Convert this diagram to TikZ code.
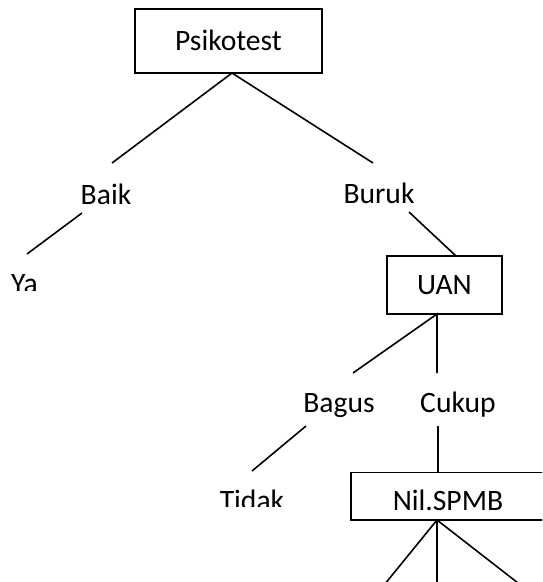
\documentclass[tikz,border=0pt]{standalone}
\usepackage{fontspec}
\setmainfont{Carlito}
\begin{document}
\begin{tikzpicture}[x=1pt,y=-1pt,
  every node/.style={font=\fontsize{29.6}{34}\selectfont},
  box/.style={draw, line width=1.6pt, inner sep=0pt, text height=19pt, text depth=0pt},
  lbl/.style={anchor=base, inner sep=0pt},
  edge/.style={line width=1.6pt}]
\useasboundingbox (0,0) rectangle (542,582);
\clip (0,0) rectangle (542,582);

% decision boxes
\node[box, minimum width=187, minimum height=64] (psiko) at (228.5,41) {Psikotest};
\node[box, minimum width=115, minimum height=58] (uan) at (444.5,285) {UAN};
% the last box runs past the right edge of the page
\node[box, anchor=west, minimum width=240, minimum height=47.5] (nil) at (350,496.3) {};
\node[lbl] (nil-txt) at (448,510) {Nil.SPMB};

% branch labels
\node[lbl] (baik)  at (106,204) {Baik};
\node[lbl] (buruk) at (379,203) {Buruk};
\node[lbl] (bagus) at (339,412) {Bagus};
\node[lbl] (cukup) at (458,412) {Cukup};

% leaf labels, cut off by their text frames
\begin{scope}
  \clip (0,260) rectangle (120,290);
  \node[lbl] (ya) at (24.5,293) {Ya};
\end{scope}
\begin{scope}
  \clip (200,480) rectangle (320,506);
  \node[lbl] (tidak) at (252,510) {Tidak};
\end{scope}

% connector end points
\coordinate (psiko-b)  at (232,73);
\coordinate (baik-t)   at (112,163);
\coordinate (buruk-t)  at (373,163);
\coordinate (baik-b)   at (82,213);
\coordinate (ya-t)     at (27,254);
\coordinate (buruk-b)  at (409,212);
\coordinate (uan-t)    at (456,256);
\coordinate (uan-b)    at (437,314);
\coordinate (bagus-t)  at (353,373);
\coordinate (cukup-t)  at (437,373);
\coordinate (bagus-b)  at (306,426);
\coordinate (tidak-t)  at (252,471);
\coordinate (cukup-b)  at (438,426);
\coordinate (nil-t)    at (438,472);
\coordinate (nil-b)    at (437,520);
\coordinate (out-l)    at (380,590);
\coordinate (out-m)    at (437,590);
\coordinate (out-r)    at (527,590);

% connectors
\draw[edge] (baik-t) -- (psiko-b) -- (buruk-t);
\draw[edge] (baik-b) -- (ya-t);
\draw[edge] (buruk-b) -- (uan-t);
\draw[edge] (bagus-t) -- (uan-b) -- (cukup-t);
\draw[edge] (bagus-b) -- (tidak-t);
\draw[edge] (cukup-b) -- (nil-t);
\draw[edge] (out-l) -- (nil-b) -- (out-r);
\draw[edge] (nil-b) -- (out-m);
\end{tikzpicture}
\end{document}
